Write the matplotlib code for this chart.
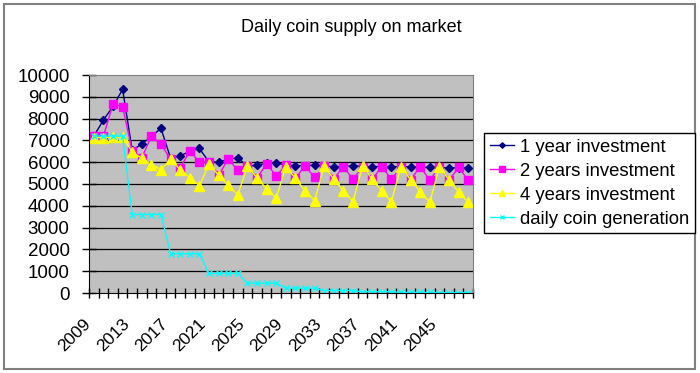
import matplotlib
matplotlib.use("Agg")
import matplotlib.pyplot as plt
from matplotlib.patches import Rectangle

plt.rcParams['font.family'] = ['Liberation Sans', 'DejaVu Sans']

# data
years = list(range(2009, 2049))
one_year = [7200, 7930, 8560, 9340, 6550, 6830, 7190, 7550, 6180, 6290,
            6500, 6630, 6010, 6010, 6130, 6210, 5810, 5860, 5950, 5960,
            5880, 5840, 5840, 5860, 5820, 5800, 5800, 5840, 5800, 5800,
            5800, 5800, 5790, 5800, 5780, 5760, 5760, 5740, 5740, 5740]
two_years = [7190, 7190, 8670, 8540, 6520, 6200, 7190, 6830, 6130, 5750,
             6500, 6010, 6010, 5400, 6150, 5630, 5810, 5290, 5920, 5380,
             5860, 5260, 5840, 5300, 5820, 5230, 5800, 5210, 5800, 5210,
             5800, 5210, 5790, 5200, 5790, 5180, 5780, 5180, 5760, 5180]
four_years = [7130, 7130, 7160, 7160, 6470, 6170, 5890, 5660, 6130, 5660,
              5290, 4920, 5900, 5410, 4950, 4510, 5810, 5290, 4780, 4350,
              5800, 5260, 4690, 4240, 5830, 5210, 4690, 4190, 5830, 5210,
              4680, 4190, 5800, 5190, 4650, 4160, 5800, 5190, 4630, 4160]
daily_gen = [7200, 7200, 7200, 7200, 3600, 3600, 3600, 3600, 1800, 1800,
             1800, 1800, 900, 900, 900, 900, 450, 450, 450, 450,
             225, 225, 225, 225, 112, 112, 112, 112, 56, 56,
             56, 56, 28, 28, 28, 28, 14, 14, 14, 14]

W, H = 700, 373
fig = plt.figure(figsize=(7, 3.73), dpi=100)
ax = fig.add_axes([89 / W, 1 - 293 / H, (473 - 89) / W, (293 - 75) / H])
ax.set_facecolor('#C0C0C0')

x = list(range(len(years)))
ax.plot(x, one_year, color='#000080', lw=1, marker='D', ms=4, label='1 year investment')
ax.plot(x, two_years, color='#FF00FF', lw=1, marker='s', ms=6, label='2 years investment')
ax.plot(x, four_years, color='#FFFF00', lw=1, marker='^', ms=7, label='4 years investment')
ax.plot(x, daily_gen, color='#00FFFF', lw=1, marker='x', ms=4, mew=1, label='daily coin generation')

ax.set_ylim(0, 10000)
ax.set_xlim(-0.5, len(years) - 0.5)
ax.set_yticks(range(0, 10001, 1000))
ax.set_yticklabels([str(v) for v in range(0, 10001, 1000)], fontsize=13.5)
for v in range(1000, 10000, 1000):
    ax.axhline(v, color='black', lw=0.9, zorder=1)

# category labels every 4 years, tick marks between categories
ax.set_xticks(x[::4])
ax.set_xticklabels([str(y) for y in years[::4]], rotation=45, ha='right', va='top',
                   fontsize=12.5)
ax.set_xticks([i - 0.5 for i in range(len(years) + 1)], minor=True)
ax.tick_params(axis='x', which='major', length=0, pad=17)
ax.tick_params(axis='x', which='minor', direction='inout', length=7, width=1)
ax.tick_params(axis='y', direction='inout', length=10, width=1, pad=9)

for s in ['top', 'right']:
    ax.spines[s].set_color('#808080')
for s in ['left', 'bottom']:
    ax.spines[s].set_color('black')

fig.text(351 / W, 1 - 28 / H, 'Daily coin supply on market', ha='center', va='center',
         fontsize=13)

leg = fig.legend(loc='upper left', bbox_to_anchor=(484 / W, 1 - 133 / H), fontsize=13.3,
                 frameon=True, fancybox=False, framealpha=1, edgecolor='black',
                 handlelength=1.3, handletextpad=0.35, labelspacing=0.38,
                 borderpad=0.3, borderaxespad=0, markerscale=0.7)
leg.get_frame().set_linewidth(1)

fig.patches.append(Rectangle((4 / W, 4 / H), 691 / W, 365 / H, transform=fig.transFigure,
                             fill=False, edgecolor='#808080', lw=1.5))

fig.savefig('out.png', dpi=100)
